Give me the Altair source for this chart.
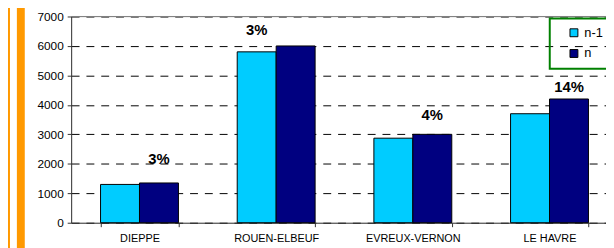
import altair as alt
import pandas as pd

categories = ["DIEPPE", "ROUEN-ELBEUF", "EVREUX-VERNON", "LE HAVRE"]
series_names = ["n-1", "n"]
values_prev = [1300, 5800, 2870, 3700]
values_curr = [1350, 6000, 3000, 4200]
pct_labels = ["3%", "3%", "4%", "14%"]
label_anchor = ["n", "n-1", "n", "n"]
label_level = [2150, 6550, 3650, 4600]
y_ticks = [0, 1000, 2000, 3000, 4000, 5000, 6000, 7000]
colors = ["#00CCFF", "#000080"]

rows = []
for c, a, b in zip(categories, values_prev, values_curr):
    rows.append({"cat": c, "series": "n-1", "value": a})
    rows.append({"cat": c, "series": "n", "value": b})
bars_df = pd.DataFrame(rows)
labels_df = pd.DataFrame({"cat": categories, "series": label_anchor,
                          "value": label_level, "pct": pct_labels})

FONT = "Liberation Sans"

x_enc = alt.X("cat:N", sort=categories,
              scale=alt.Scale(range=[0, 554], paddingInner=0.43, paddingOuter=0.215),
              axis=alt.Axis(title=None, labelAngle=0, tickBand="extent", tickSize=4,
                            labelFont=FONT, labelFontSize=11, labelColor="#000",
                            labelPadding=6, domainColor="#333", tickColor="#333",
                            labelLimit=200))
y_enc = alt.Y("value:Q",
              scale=alt.Scale(domain=[0, 7000], nice=False),
              axis=alt.Axis(title=None, values=y_ticks, tickSize=4, labelPadding=4,
                            format="d", labelOverlap=False,
                            labelFont=FONT, labelFontSize=12, labelColor="#000",
                            domainColor="#333", tickColor="#333",
                            grid=True, gridColor="#000", gridDash=[8, 7],
                            gridOpacity=1, gridWidth=1))
xoff = alt.XOffset("series:N", sort=series_names)

bars = alt.Chart(bars_df).mark_bar(stroke="#000", strokeWidth=1).encode(
    x=x_enc, y=y_enc, xOffset=xoff,
    color=alt.Color("series:N", sort=series_names,
                    scale=alt.Scale(domain=series_names, range=colors),
                    legend=alt.Legend(title=None, orient="none", legendX=485, legendY=2,
                                      strokeColor="#008000",
                                      padding=8, symbolOffset=10,
                                      symbolType="square", symbolSize=64,
                                      symbolStrokeColor="#000", symbolStrokeWidth=1,
                                      labelFont=FONT, labelFontSize=13,
                                      labelColor="#000", rowPadding=7,
                                      labelOffset=4))
)

texts = alt.Chart(labels_df).mark_text(font=FONT, fontSize=15, fontWeight="bold",
                                       baseline="middle", color="#000").encode(
    x=x_enc, y=y_enc, xOffset=xoff, text="pct:N"
)

top_df = pd.DataFrame({"value": [7000]})
top_rule = alt.Chart(top_df).mark_rule(color="#808080", strokeWidth=1).encode(
    y=y_enc, x=alt.value(0), x2=alt.value(554)
)

stripes = alt.Chart(top_df).mark_rect(color="#FF9900").encode(
    x=alt.value(-69), x2=alt.value(-62), y=alt.value(-10), y2=alt.value(240)
)
stripes2 = alt.Chart(top_df).mark_rect(color="#FF9900").encode(
    x=alt.value(-55), x2=alt.value(-47), y=alt.value(-10), y2=alt.value(240)
)

chart = alt.layer(stripes, stripes2, bars, top_rule, texts).properties(
    width=542, height=209,
    autosize=alt.AutoSizeParams(type="none"),
    padding={"left": 64, "top": 7, "right": 0, "bottom": 24},
).configure_view(stroke=None).configure(background="white").configure_legend(strokeWidth=2)

chart.save("out.html", embed_options={"renderer": "svg", "actions": False})
